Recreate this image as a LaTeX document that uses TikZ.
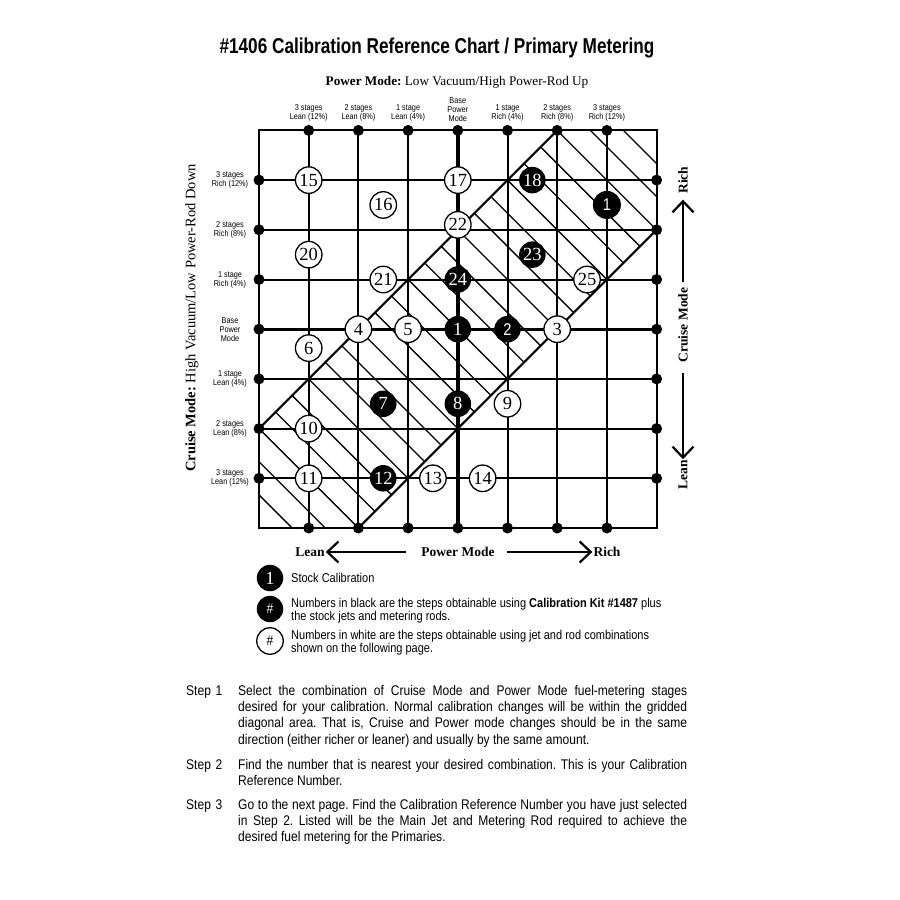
\documentclass[tikz,border=0pt]{standalone}
\usepackage{fontspec}
\setmainfont{Liberation Serif}
\newfontfamily\condfont[FakeStretch=0.86]{Liberation Sans}
\newfontfamily\titlefont[FakeStretch=0.8]{Liberation Sans}
\usetikzlibrary{arrows.meta}

\tikzset{
  gridline/.style={line width=2pt},
  baseaxis/.style={line width=3.4pt},
  hatchline/.style={line width=1.3pt},
  whitenum/.style={circle, draw, line width=1.3pt, fill=white, minimum size=26.5pt, inner sep=0pt, font=\fontsize{18.5}{18.5}\selectfont},
  blacknum/.style={circle, fill=black, text=white, minimum size=26.5pt, inner sep=0pt, font=\fontsize{18.5}{18.5}\selectfont},
  sansnum/.style={font=\condfont\fontsize{17}{17}\selectfont},
  stagelabel/.style={font=\condfont\fontsize{8.5}{9}\selectfont, align=center, inner sep=0pt},
  modelabel/.style={font=\bfseries\fontsize{13.5}{14}\selectfont, inner sep=1pt},
  modearrow/.style={line width=2.2pt, -{Straight Barb[length=11pt,width=21pt,line width=2.2pt]}},
  legendtext/.style={font=\condfont\fontsize{12.8}{13.5}\selectfont, anchor=west, align=left, inner sep=0pt},
  steptext/.style={font=\condfont\fontsize{14}{16.3}\selectfont, anchor=north west, inner sep=0pt},
  steplabel/.style={steptext, text width=48pt, align=left},
  stepbody/.style={steptext, text width=449pt, align=justify},
}

\begin{document}
\frenchspacing
\begin{tikzpicture}[x=1pt, y=1pt]
    \useasboundingbox (0,0) rectangle (900,-900);

    % Headings
    \node[font=\titlefont\bfseries\fontsize{21.5}{21.5}\selectfont] (title) at (437,-48) {\#1406 Calibration Reference Chart / Primary Metering};
    \node[font=\fontsize{13.2}{14}\selectfont] (powermode) at (457,-82) {\textbf{Power Mode:} Low Vacuum/High Power-Rod Up};
    \node[font=\fontsize{14.5}{15}\selectfont, rotate=90] (cruisemode) at (192,-318) {\textbf{Cruise Mode:} High Vacuum/Low Power-Rod Down};

    % Chart
    \begin{scope}[shift={(259,-528)}, x=49.7pt, y=49.7pt]
        % Hatched diagonal band
        \begin{scope}
            \clip (0,0) -- (0,2) -- (6,8) -- (8,8) -- (8,6) -- (2,0) -- cycle;
            \foreach \k in {1,...,23}
                \draw[hatchline] ({\k*2/3+2},-2) -- (-2,{\k*2/3+2});
        \end{scope}
        \draw[gridline] (0,2) -- (6,8);
        \draw[gridline] (2,0) -- (8,6);

        % Grid lines
        \foreach \i in {1,...,7} {
            \draw[gridline] (\i,0) -- (\i,8);
            \draw[gridline] (0,\i) -- (8,\i);
        }
        \draw[baseaxis] (4,0) -- (4,8);
        \draw[baseaxis] (0,4) -- (8,4);
        \draw[gridline] (0,0) rectangle (8,8);

        % Stage dots on the frame
        \foreach \i in {1,...,7} {
            \fill (\i,0) circle (5.5pt);
            \fill (\i,8) circle (5.5pt);
            \fill (0,\i) circle (5.5pt);
            \fill (8,\i) circle (5.5pt);
        }

        % Stage labels
        \foreach \i/\txt in {1/{3 stages\\Lean (12\%)}, 2/{2 stages\\Lean (8\%)}, 3/{1 stage\\Lean (4\%)}, 4/{Base\\Power\\Mode}, 5/{1 stage\\Rich (4\%)}, 6/{2 stages\\Rich (8\%)}, 7/{3 stages\\Rich (12\%)}}
            \node[stagelabel, anchor=south] (top\i) at ([yshift=9pt]\i,8) {\txt};
        \foreach \i/\txt in {1/{3 stages\\Lean (12\%)}, 2/{2 stages\\Lean (8\%)}, 3/{1 stage\\Lean (4\%)}, 4/{Base\\Power\\Mode}, 5/{1 stage\\Rich (4\%)}, 6/{2 stages\\Rich (8\%)}, 7/{3 stages\\Rich (12\%)}}
            \node[stagelabel] (side\i) at ([xshift=-29pt]0,\i) {\txt};

        % Calibration numbers
        \node[whitenum] (n15) at (1,7) {15};
        \node[whitenum] (n17) at (4,7) {17};
        \node[blacknum] (n18) at (5.5,7) {18};
        \node[blacknum, sansnum, minimum size=28pt] (stock) at (7,6.5) {1};
        \node[whitenum] (n16) at (2.5,6.5) {16};
        \node[whitenum] (n22) at (4,6.1) {22};
        \node[whitenum] (n20) at (1,5.5) {20};
        \node[blacknum] (n23) at (5.5,5.5) {23};
        \node[whitenum] (n21) at (2.5,5) {21};
        \node[blacknum] (n24) at (4,5) {24};
        \node[whitenum] (n25) at (6.6,5) {25};
        \node[whitenum] (n4) at (2,4) {4};
        \node[whitenum] (n5) at (3,4) {5};
        \node[blacknum] (n1) at (4,4) {1};
        \node[blacknum, sansnum] (n2) at (5,4) {2};
        \node[whitenum] (n3) at (6,4) {3};
        \node[whitenum] (n6) at (1,3.62) {6};
        \node[blacknum] (n7) at (2.5,2.5) {7};
        \node[blacknum] (n8) at (4,2.5) {8};
        \node[whitenum] (n9) at (5,2.5) {9};
        \node[whitenum] (n10) at (1,2) {10};
        \node[whitenum] (n11) at (1,1) {11};
        \node[blacknum] (n12) at (2.5,1) {12};
        \node[whitenum] (n13) at (3.5,1) {13};
        \node[whitenum] (n14) at (4.5,1) {14};
    \end{scope}

    % Mode direction labels
    \node[modelabel, rotate=90] (richc) at (683,-180) {Rich};
    \node[modelabel, rotate=90] (cruise) at (683,-325) {Cruise Mode};
    \node[modelabel, rotate=90] (leanc) at (683,-475) {Lean};
    \draw[modearrow, shorten <=4pt, shorten >=5pt] (cruise.east) -- (richc.west);
    \draw[modearrow, shorten <=9pt] (cruise.west) -- (leanc.east);
    \node[modelabel] (leanp) at (310,-552) {Lean};
    \node[modelabel] (power) at (458,-552) {Power Mode};
    \node[modelabel] (richp) at (607,-552) {Rich};
    \draw[modearrow, shorten <=14pt] (power.west) -- (leanp.east);
    \draw[modearrow, shorten <=11pt] (power.east) -- (richp.west);

    % Legend
    \node[blacknum] (key1) at (270,-578) {1};
    \node[legendtext] (key1text) at (291,-578) {Stock Calibration};
    \node[blacknum, font=\condfont\fontsize{14}{14}\selectfont] (key2) at (270,-609) {\#};
    \node[legendtext] (key2text) at (291,-610.5) {Numbers in black are the steps obtainable using {\bfseries Calibration Kit \#1487} plus\\the stock jets and metering rods.};
    \node[whitenum, font=\condfont\fontsize{14}{14}\selectfont] (key3) at (270,-641) {\#};
    \node[legendtext] (key3text) at (291,-642.5) {Numbers in white are the steps obtainable using jet and rod combinations\\shown on the following page.};

    % Steps
    \node[steplabel] (step1) at (186,-686) {Step 1};
    \node[stepbody] (step1text) at (238,-685) {Select the combination of Cruise Mode and Power Mode fuel-metering stages\linebreak desired for your calibration. Normal calibration changes will be within the gridded\linebreak diagonal area. That is, Cruise and Power mode changes should be in the same\linebreak direction (either richer or leaner) and usually by the same amount.};
    \node[steplabel] (step2) at (186,-760) {Step 2};
    \node[stepbody] (step2text) at (238,-759) {Find the number that is nearest your desired combination. This is your Calibration\linebreak Reference Number.};
    \node[steplabel] (step3) at (186,-800) {Step 3};
    \node[stepbody] (step3text) at (238,-799) {Go to the next page. Find the Calibration Reference Number you have just selected\linebreak in Step 2. Listed will be the Main Jet and Metering Rod required to achieve the\linebreak desired fuel metering for the Primaries.};
\end{tikzpicture}
\end{document}
